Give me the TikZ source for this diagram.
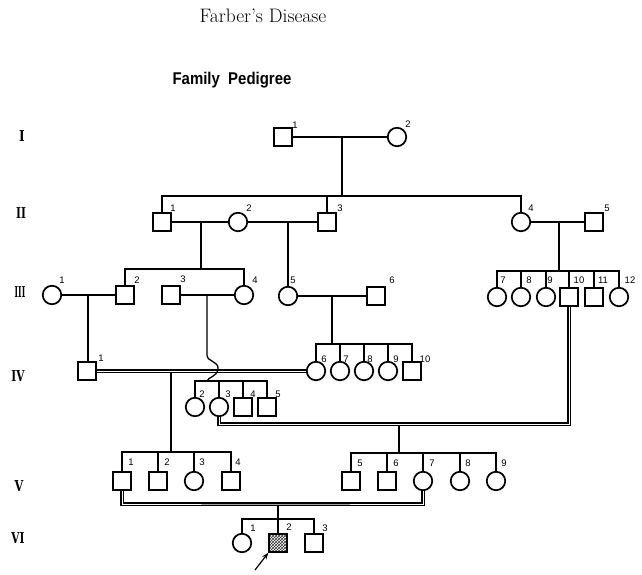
\documentclass[tikz,border=0pt]{standalone}
\usepackage{fontspec}
\usepackage{graphicx}
\newfontfamily\labfont{Liberation Sans}
\newfontfamily\genfont{DejaVu Serif}
\usetikzlibrary{patterns,arrows.meta}
\newcommand{\genlab}[2]{\scalebox{#1}[1]{\genfont\bfseries #2}}
\begin{document}
\begin{tikzpicture}[x=1pt,y=-1pt,
  male/.style={draw,line width=1.7pt,minimum size=17.5pt,inner sep=0pt,rectangle},
  female/.style={draw,line width=1.7pt,minimum size=18.5pt,inner sep=0pt,circle},
  lab/.style={font=\labfont\fontsize{9.5}{10}\selectfont,inner sep=0pt},
  gen/.style={font=\fontsize{15}{15}\selectfont,inner sep=0pt},
  ln/.style={line width=1.3pt},
  cons/.style={double,double distance=1pt,line width=1.5pt},
]
\useasboundingbox (0,0) rectangle (642,575);
% titles
\node[font=\fontsize{19.5}{21}\selectfont,inner sep=0pt] (title) at (263,16) {Farber's Disease};
\node[font=\labfont\bfseries\fontsize{17}{18}\selectfont,inner sep=0pt] (sub) at (232,80) {\scalebox{0.88}[1]{Family\ \ Pedigree}};
% generation labels
\node[gen] (gI) at (22,136) {\genlab{0.8}{I}};
\node[gen] (gII) at (21,213) {\genlab{0.7}{II}};
\node[gen] (gIII) at (20,292) {\genlab{0.5}{III}};
\node[gen] (gIV) at (18,376) {\genlab{0.7}{IV}};
\node[gen] (gV) at (19,486) {\genlab{0.75}{V}};
\node[gen] (gVI) at (18,538) {\genlab{0.7}{VI}};
% generation I
\node[male] (I1) at (283,137) {};
\node[female] (I2) at (397,137) {};
% generation II
\node[male] (II1) at (162,222) {};
\node[female] (II2) at (238,222) {};
\node[male] (II3) at (327,222) {};
\node[female] (II4) at (521,222) {};
\node[male] (II5) at (594,222) {};
% generation III
\node[female] (III1) at (52,295) {};
\node[male] (III2) at (125,295) {};
\node[male] (III3) at (171,295) {};
\node[female] (III4) at (244,295) {};
\node[female] (III5) at (288,296) {};
\node[male] (III6) at (376,296) {};
\node[female] (III7) at (497,297) {};
\node[female] (III8) at (521,297) {};
\node[female] (III9) at (546,297) {};
\node[male] (III10) at (569,297) {};
\node[male] (III11) at (594,297) {};
\node[female] (III12) at (619,297) {};
% generation IV
\node[male] (IV1) at (87,371) {};
\node[female] (IV2) at (195,407) {};
\node[female] (IV3) at (219,407) {};
\node[male] (IV4) at (243,407) {};
\node[male] (IV5) at (267,407) {};
\node[female] (IV6) at (316,371) {};
\node[female] (IV7) at (340,371) {};
\node[female] (IV8) at (364,371) {};
\node[female] (IV9) at (388,371) {};
\node[male] (IV10) at (412,371) {};
% generation V
\node[male] (V1) at (122,481) {};
\node[male] (V2) at (158,481) {};
\node[female] (V3) at (194,481) {};
\node[male] (V4) at (231,481) {};
\node[male] (V5) at (351,481) {};
\node[male] (V6) at (387,481) {};
\node[female] (V7) at (423,481) {};
\node[female] (V8) at (460,481) {};
\node[female] (V9) at (496,481) {};
% generation VI
\node[female] (VI1) at (242,543) {};
\node[male,pattern=crosshatch,pattern color=black!80] (VI2) at (278,543) {};
\node[male] (VI3) at (314,543) {};
% number labels
\foreach \n/\t/\x/\y in {lI1/1/295/125, lI2/2/408/124,
  lII1/1/173/208, lII2/2/249/208, lII3/3/340/208, lII4/4/531/208, lII5/5/607/208,
  lIII1/1/62/280, lIII2/2/137/280, lIII3/3/183/279, lIII4/4/255/280, lIII5/5/293/280, lIII6/6/392/280,
  lIII7/7/503/280, lIII8/8/529/280, lIII9/9/550/280, lIII10/10/579/280, lIII11/11/603/280, lIII12/12/630/280,
  lIV1/1/101/358, lIV2/2/202/394, lIV3/3/228/394, lIV4/4/253/394, lIV5/5/278/394,
  lIV6/6/324/359, lIV7/7/346/359, lIV8/8/370/359, lIV9/9/396/359, lIV10/10/425/359,
  lV1/1/131/462, lV2/2/167/462, lV3/3/202/462, lV4/4/238/462,
  lV5/5/360/463, lV6/6/396/463, lV7/7/432/463, lV8/8/468/463, lV9/9/504/463,
  lVI1/1/253/528, lVI2/2/289/527, lVI3/3/325/528}
  \node[lab] (\n) at (\x,\y) {\t};
% coordinates
\coordinate (mI) at (342,137);
\coordinate (sII) at (342,196);
\coordinate (d12) at (201,222);
\coordinate (s3a) at (201,269);
\coordinate (d23) at (288,222);
\coordinate (d45) at (559,222);
\coordinate (s3b) at (559,271);
\coordinate (d3a) at (88,295);
\coordinate (d3b) at (207,295);
\coordinate (h1) at (207,355);
\coordinate (s4a) at (207,381);
\coordinate (d56) at (332,296);
\coordinate (s4b) at (332,344);
\coordinate (d4a) at (171,373);
\coordinate (s5a) at (171,452);
\coordinate (c34) at (569,424);
\coordinate (d4b) at (399,426);
\coordinate (s5b) at (399,453);
\coordinate (d5) at (278,504);
\coordinate (d5b) at (278,506);
\coordinate (s6) at (278,519);
\coordinate (arr) at (255,570);
% generation I links
\draw[ln] (I1) -- (I2);
\draw[ln] (mI) -- (sII);
\draw[ln] (II1.north) -- (II1.north |- sII) -- (II4.north |- sII) -- (II4.north);
\draw[ln] (II3.north) -- (II3.north |- sII);
% generation II links
\draw[ln] (II1) -- (II2);
\draw[ln] (II2) -- (II3);
\draw[ln] (II4) -- (II5);
\draw[ln] (d12) -- (s3a);
\draw[ln] (III2.north) -- (III2.north |- s3a) -- (III4.north |- s3a) -- (III4.north);
\draw[ln] (d23) -- (III5.north);
\draw[ln] (d45) -- (s3b);
\draw[ln] (III7.north) -- (III7.north |- s3b) -- (III12.north |- s3b) -- (III12.north);
\foreach \c in {III8,III9,III10,III11} \draw[ln] (\c.north) -- (\c.north |- s3b);
% generation III links
\draw[ln] (III1) -- (III2);
\draw[ln] (d3a) -- (d3a |- IV1.north);
\draw[ln] (III3) -- (III4);
\draw[ln] (III5) -- (III6);
\draw[ln] (d56) -- (s4b);
\draw[ln] (IV6.north) -- (IV6.north |- s4b) -- (IV10.north |- s4b) -- (IV10.north);
\foreach \c in {IV7,IV8,IV9} \draw[ln] (\c.north) -- (\c.north |- s4b);
% generation IV links
\draw[cons] (IV1) -- (IV6);
\draw[ln] (d3b) -- (h1) .. controls (207,362) and (219,361) .. (218,369) .. controls (217,377) and (208,377) .. (s4a);
\draw[ln] (IV2.north) -- (IV2.north |- s4a) -- (IV5.north |- s4a) -- (IV5.north);
\foreach \c in {IV3,IV4} \draw[ln] (\c.north) -- (\c.north |- s4a);
\draw[ln] (d4a) -- (s5a);
\draw[ln] (V1.north) -- (V1.north |- s5a) -- (V4.north |- s5a) -- (V4.north);
\foreach \c in {V2,V3} \draw[ln] (\c.north) -- (\c.north |- s5a);
\draw[ln] (d4b) -- (s5b);
\draw[cons] (IV3.south) |- (c34) -- (III10.south);
\draw[ln] (V5.north) -- (V5.north |- s5b) -- (V9.north |- s5b) -- (V9.north);
\foreach \c in {V6,V7,V8} \draw[ln] (\c.north) -- (\c.north |- s5b);
% generation V links
\draw[ln] (d5b) -- (s6);
\draw[cons] (V1.south) |- (d5) -| (V7.south);
\draw[ln] (VI1.north) -- (VI1.north |- s6) -- (VI3.north |- s6) -- (VI3.north);
\draw[ln] (VI2.north) -- (VI2.north |- s6);
% proband arrow
\draw[line width=1.2pt,-{Stealth[length=7pt,width=5pt]}] (arr) -- (VI2.south west);
\end{tikzpicture}
\end{document}
